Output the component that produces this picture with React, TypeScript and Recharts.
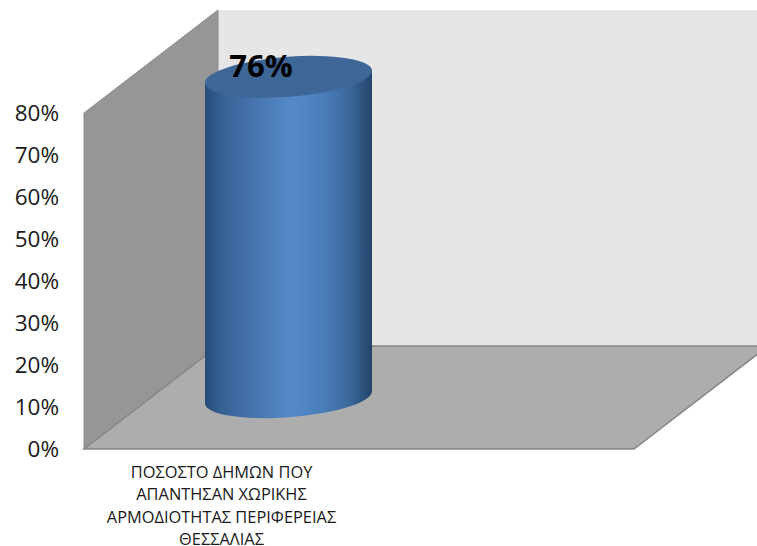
import { Bar, BarChart, ReferenceArea, XAxis, YAxis } from "recharts";

const labelLines = [
  "ΠΟΣΟΣΤΟ ΔΗΜΩΝ ΠΟΥ",
  "ΑΠΑΝΤΗΣΑΝ ΧΩΡΙΚΗΣ",
  "ΑΡΜΟΔΙΟΤΗΤΑΣ ΠΕΡΙΦΕΡΕΙΑΣ",
  "ΘΕΣΣΑΛΙΑΣ",
];
// the second slot is empty, the original sheet only filled one column
const categories = [labelLines.join("\n"), " "];
const values = [76, null];
const yTicks = [0, 10, 20, 30, 40, 50, 60, 70, 80];

const data = categories.map((name, i) => ({ name, value: values[i] }));

const FONT = '"Open Sans", sans-serif';
const DEPTH_X = 134;
const DEPTH_Y = 103;
const BAR_DX = 67;
const BAR_DY = 53;
const TILT = 6; // half the vertical drop across the cylinder cap

function Walls({ x, y, width, height }: any) {
  const bottom = y + height;
  const right = x + width;
  return (
    <g>
      <polygon
        points={`${x + DEPTH_X},${y - DEPTH_Y} 800,${y - DEPTH_Y} 800,${bottom - DEPTH_Y} ${x + DEPTH_X},${bottom - DEPTH_Y}`}
        fill="#e6e6e6"
      />
      <polygon
        points={`${x},${y} ${x + DEPTH_X},${y - DEPTH_Y} ${x + DEPTH_X},${bottom - DEPTH_Y} ${x},${bottom}`}
        fill="#969696"
        stroke="#8c8c8c"
      />
      <polygon
        points={`${x},${bottom} ${x + DEPTH_X},${bottom - DEPTH_Y} ${right + DEPTH_X},${bottom - DEPTH_Y} ${right},${bottom}`}
        fill="#adadad"
        stroke="#858585"
        strokeWidth={1.5}
      />
    </g>
  );
}

function Cylinder({ x, y, width, height }: any) {
  if (!height) return null;
  const left = x + BAR_DX;
  const right = left + width;
  const cx = left + width / 2;
  const top = y - BAR_DY;
  const base = top + height + 2;
  const rx = width / 2 + 0.3;
  const ry = 20;
  return (
    <g>
      <defs>
        <linearGradient id="cylBody" x1="0" x2="1" y1="0" y2="0">
          <stop offset="0%" stopColor="#264a75" />
          <stop offset="8%" stopColor="#345f92" />
          <stop offset="30%" stopColor="#4674ad" />
          <stop offset="52%" stopColor="#558aca" />
          <stop offset="72%" stopColor="#4a7cb8" />
          <stop offset="88%" stopColor="#386596" />
          <stop offset="100%" stopColor="#234469" />
        </linearGradient>
      </defs>
      <path
        d={`M${left},${top + TILT} L${left},${base + TILT} A${rx},${ry} -4.4 0 0 ${right},${base - TILT} L${right},${top - TILT} Z`}
        fill="url(#cylBody)"
      />
      <ellipse
        cx={cx}
        cy={top}
        rx={rx}
        ry={ry}
        fill="#3e6798"
        transform={`rotate(-4.4 ${cx} ${top})`}
      />
    </g>
  );
}

function ValueLabel({ x, y, value }: any) {
  if (value == null) return null;
  return (
    <text
      x={x + BAR_DX + 56}
      y={y - BAR_DY}
      textAnchor="middle"
      fontFamily={FONT}
      fontWeight={700}
      fontSize={31}
      fill="#000"
    >
      {value}%
    </text>
  );
}

function CategoryTick({ x, y, payload }: any) {
  const lines = String(payload.value).split("\n");
  return (
    <text
      x={x}
      y={y}
      textAnchor="middle"
      fontFamily={FONT}
      fontSize={16.4}
      fill="#1a1a1a"
    >
      {lines.map((line, i) => (
        <tspan key={i} x={x} dy={i === 0 ? 0 : 22.4}>
          {line}
        </tspan>
      ))}
    </text>
  );
}

export default function App() {
  return (
    <div style={{ position: "absolute", left: 0, top: 0 }}>
      <BarChart
        width={757}
        height={546}
        data={data}
        margin={{ top: 113, right: 123, bottom: 0, left: 0 }}
        barSize={167}
      >
        <XAxis
          dataKey="name"
          interval={0}
          axisLine={false}
          tickLine={false}
          height={97}
          tick={<CategoryTick />}
          tickMargin={23}
        />
        <YAxis
          domain={[0, 80]}
          ticks={yTicks}
          width={84}
          axisLine={false}
          tickLine={false}
          tickSize={0}
          tickMargin={25}
          tickFormatter={(v: number) => v + "%"}
          tick={{ fontFamily: FONT, fontSize: 22.5, fill: "#1a1a1a" }}
        />
        <ReferenceArea y1={0} y2={80} shape={<Walls />} ifOverflow="visible" />
        <Bar
          dataKey="value"
          shape={<Cylinder />}
          label={<ValueLabel />}
          isAnimationActive={false}
        />
      </BarChart>
    </div>
  );
}
